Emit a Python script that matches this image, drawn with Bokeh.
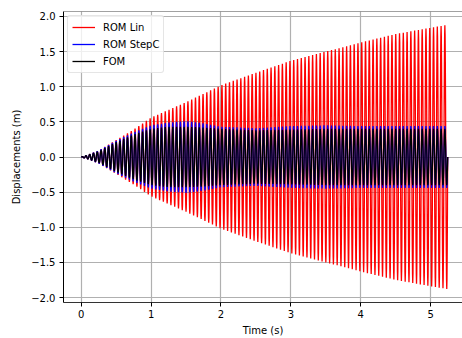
import numpy as np
from bokeh.plotting import figure
from bokeh.models import Range1d, FixedTicker, Span, Legend, LegendItem
from bokeh.embed import file_html
from bokeh.resources import INLINE

# --- data ---
# envelope knots (time in s) and peak amplitudes (m) of each oscillating response
env_t = [0.0, 0.1, 0.25, 0.5, 0.75, 1.0, 1.25, 1.5, 1.75, 2.0, 2.5, 3.0, 3.5, 4.0, 4.5, 5.0, 5.24]
rom_lin_amp = [0.0, 0.03, 0.09, 0.24, 0.39, 0.56, 0.67, 0.78, 0.90, 1.02, 1.20, 1.37, 1.50, 1.63, 1.75, 1.84, 1.88]
rom_stepc_amp = [0.0, 0.03, 0.09, 0.23, 0.35, 0.45, 0.49, 0.51, 0.48, 0.43, 0.41, 0.44, 0.45, 0.44, 0.44, 0.44, 0.44]
fom_amp = [0.0, 0.03, 0.08, 0.21, 0.32, 0.40, 0.43, 0.43, 0.42, 0.40, 0.38, 0.39, 0.40, 0.40, 0.40, 0.40, 0.40]
freq_hz = 18.5
n_cycles = 97           # number of oscillations drawn

series_names = ["ROM Lin", "ROM StepC", "FOM"]
series_colors = ["#ff0000", "#0000ff", "#000000"]

x_ticks = [0, 1, 2, 3, 4, 5]
y_ticks = [-2.0, -1.5, -1.0, -0.5, 0.0, 0.5, 1.0, 1.5, 2.0]
y_tick_labels = ["\u22122.0", "\u22121.5", "\u22121.0", "\u22120.5", "0.0", "0.5", "1.0", "1.5", "2.0"]

FONT = "DejaVu Sans"

t_end = n_cycles / freq_hz
t = np.linspace(0.0, t_end, n_cycles * 16 + 1)
carrier = np.sin(2 * np.pi * freq_hz * t)
signals = [np.interp(t, env_t, a) * carrier for a in (rom_lin_amp, rom_stepc_amp, fom_amp)]

p = figure(width=462, height=338, output_backend="svg", toolbar_location=None,
           x_range=Range1d(-0.253, 5.455), y_range=Range1d(-2.071, 2.071),
           min_border_left=63, min_border_right=0, min_border_top=11, min_border_bottom=35)
p.outline_line_color = None
p.background_fill_color = "white"
p.border_fill_color = "white"

renderers = []
for y, c in zip(signals, series_colors):
    renderers.append(p.line(t, y, line_color=c, line_width=1.3))

for ax in (p.xaxis[0], p.yaxis[0]):
    ax.major_tick_in = 0
    ax.major_tick_out = 4
    ax.minor_tick_line_color = None
    ax.major_label_text_font = FONT
    ax.major_label_text_font_size = "10px"
    ax.major_label_text_color = "#000000"
    ax.axis_label_text_font = FONT
    ax.axis_label_text_font_size = "10px"
    ax.axis_label_text_font_style = "normal"
    ax.axis_label_text_color = "#000000"
    ax.axis_line_color = "#000000"
    ax.major_tick_line_color = "#000000"

p.xaxis[0].ticker = FixedTicker(ticks=x_ticks)
p.xaxis[0].axis_label = "Time (s)"
p.xaxis[0].major_label_standoff = 3
p.xaxis[0].axis_label_standoff = 4
p.xaxis[0].axis_line_color = "#333333"

p.yaxis[0].ticker = FixedTicker(ticks=y_ticks)
p.yaxis[0].major_label_overrides = {v: s for v, s in zip(y_ticks, y_tick_labels)}
p.yaxis[0].axis_label = "Displacements (m)"
p.yaxis[0].major_label_standoff = 4
p.yaxis[0].axis_label_standoff = 6

p.xgrid[0].ticker = FixedTicker(ticks=x_ticks)
p.ygrid[0].ticker = FixedTicker(ticks=y_ticks)
for g in (p.xgrid[0], p.ygrid[0]):
    g.grid_line_color = "#b0b0b0"
    g.grid_line_width = 1.2

p.add_layout(Span(location=2.071, dimension="width", line_color="#444444", line_width=1.2))

legend = Legend(items=[LegendItem(label=n, renderers=[r]) for n, r in zip(series_names, renderers)],
                location="top_left")
legend.margin = 4
legend.padding = 4
legend.spacing = 3
legend.glyph_width = 23
legend.glyph_height = 14
legend.label_height = 14
legend.label_standoff = 8
legend.label_text_font = FONT
legend.label_text_font_size = "10px"
legend.label_text_color = "#000000"
legend.border_line_color = "#cccccc"
legend.border_line_width = 1
legend.border_radius = 3
legend.background_fill_color = "white"
legend.background_fill_alpha = 0.8
p.add_layout(legend)

open("out.html", "w").write(file_html(p, INLINE))
